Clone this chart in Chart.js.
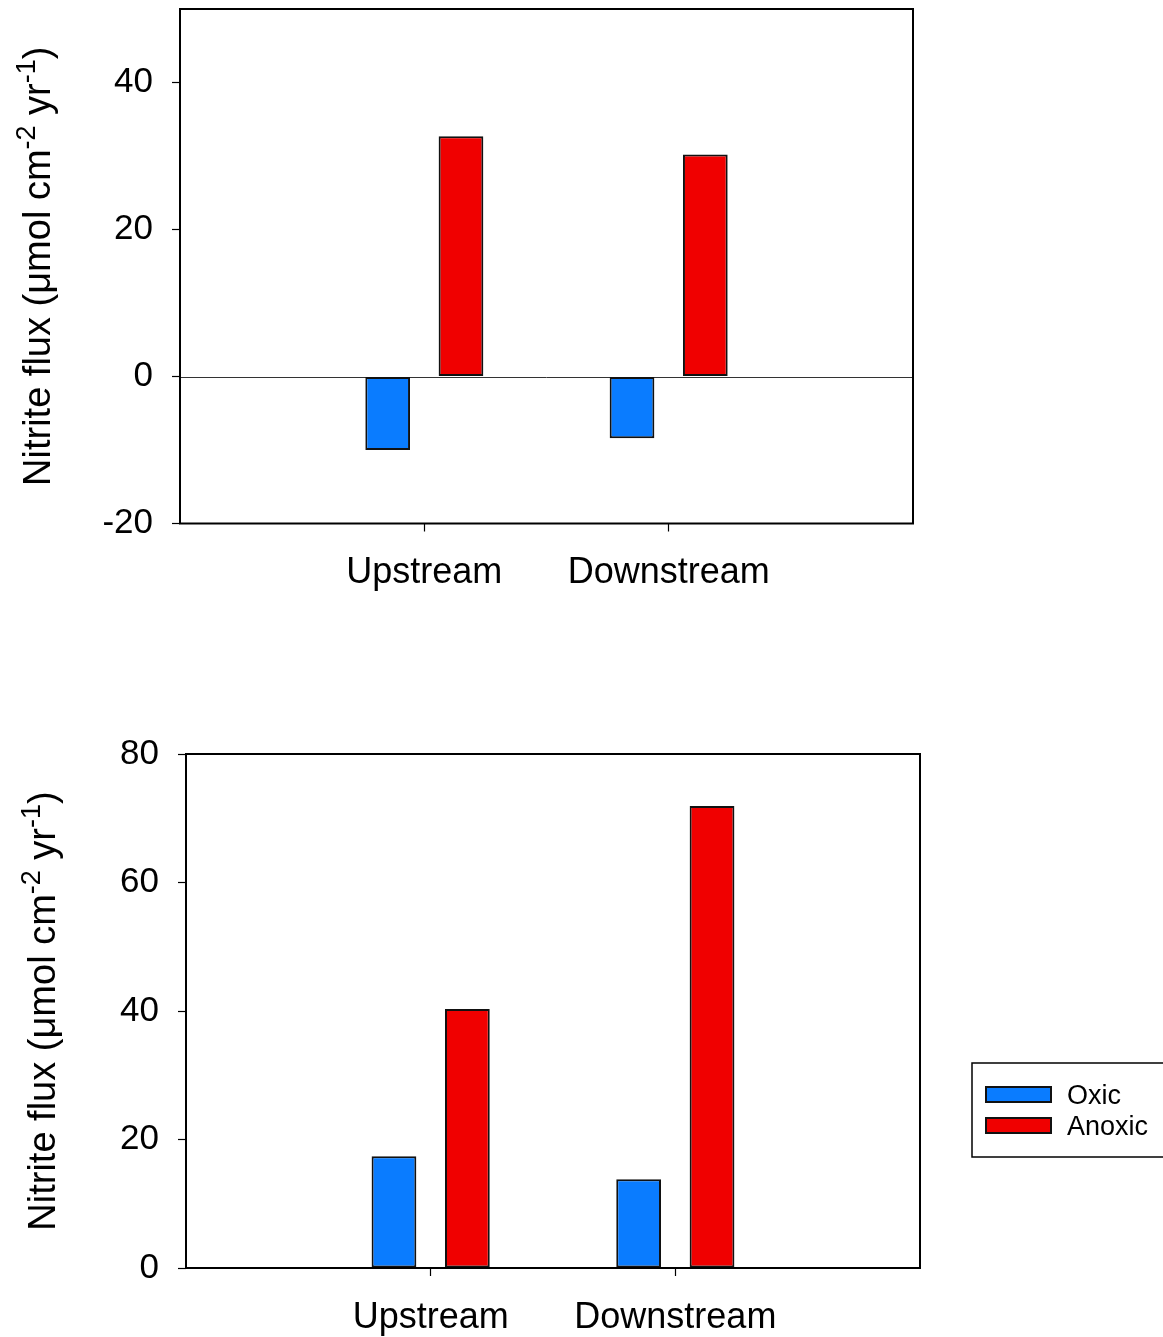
<!DOCTYPE html>
<html>
<head>
<meta charset="utf-8">
<script src="https://cdn.jsdelivr.net/npm/chart.js@4.4.1/dist/chart.umd.min.js"></script>
<style>
  html, body { margin: 0; padding: 0; background: #fff; }
  canvas { display: block; }
</style>
</head>
<body>
<canvas id="panelA" width="1163" height="620"></canvas>
<canvas id="panelB" width="1163" height="717"></canvas>
<script>
// Sampling sites and treatments
const sites = ['Upstream', 'Downstream'];
const seriesNames = ['Oxic', 'Anoxic'];
const seriesColors = ['#0a7cff', '#f00000'];

// Upper panel: nitrite flux
const oxicA = [-10.0, -8.4];
const anoxicA = [32.7, 30.2];
const yTicksA = [-20, 0, 20, 40];

// Lower panel: nitrite flux
const oxicB = [17.4, 13.8];
const anoxicB = [40.3, 71.9];
const yTicksB = [0, 20, 40, 60, 80];

const FONT = '"Liberation Sans", Arial, Helvetica, sans-serif';
Chart.defaults.font.family = FONT;
Chart.defaults.color = '#000';

// Sites sit at 1/3 and 2/3 of the axis: pad the category list with blank slots
const paddedLabels = ['', ...sites, ''];
const pad = arr => [null, ...arr, null];

const panelPlugin = {
  id: 'panel',
  beforeDatasetsDraw(chart, args, opts) {
    const ctx = chart.ctx, a = chart.chartArea, y = chart.scales.y;
    if (opts.zeroLine) {
      const y0 = Math.round(y.getPixelForValue(0)) + 0.5;
      ctx.save();
      ctx.strokeStyle = '#333';
      ctx.lineWidth = 1;
      ctx.beginPath();
      ctx.moveTo(a.left, y0);
      ctx.lineTo(a.right, y0);
      ctx.stroke();
      ctx.restore();
    }
  },
  afterDatasetsDraw(chart, args, opts) {
    const ctx = chart.ctx, a = chart.chartArea;
    // plot frame
    ctx.save();
    ctx.strokeStyle = '#000';
    ctx.lineWidth = 2;
    ctx.strokeRect(a.left, a.top, a.right - a.left, a.bottom - a.top);
    ctx.restore();

    // rotated axis title with superscripts
    const f = opts.titleSize, fs = Math.round(f * 0.7);
    const parts = [
      { t: 'Nitrite flux (\u03bcmol cm', sup: false },
      { t: '-2', sup: true },
      { t: ' yr', sup: false },
      { t: '-1', sup: true },
      { t: ')', sup: false }
    ];
    ctx.save();
    let total = 0;
    parts.forEach(p => {
      ctx.font = (p.sup ? fs : f) + 'px ' + FONT;
      p.w = ctx.measureText(p.t).width;
      total += p.w;
    });
    ctx.translate(opts.titleX, (a.top + a.bottom) / 2);
    ctx.rotate(-Math.PI / 2);
    ctx.fillStyle = '#000';
    ctx.textBaseline = 'alphabetic';
    ctx.textAlign = 'left';
    let x = -total / 2;
    parts.forEach(p => {
      ctx.font = (p.sup ? fs : f) + 'px ' + FONT;
      ctx.fillText(p.t, x, p.sup ? -f * 0.4 : 0);
      x += p.w;
    });
    ctx.restore();

    // legend box
    if (opts.legend) {
      const L = opts.legend;
      ctx.save();
      ctx.strokeStyle = '#000';
      ctx.lineWidth = 1.5;
      ctx.fillStyle = '#fff';
      ctx.fillRect(L.x, L.y, L.w, L.h);
      ctx.strokeRect(L.x, L.y, L.w, L.h);
      chart.data.datasets.forEach((ds, i) => {
        const sy = L.y + L.rowTop + i * L.rowStep;
        ctx.fillStyle = ds.backgroundColor;
        ctx.fillRect(L.x + 14, sy, 65, 15);
        ctx.strokeStyle = '#111';
        ctx.lineWidth = 2;
        ctx.strokeRect(L.x + 14, sy, 65, 15);
        ctx.fillStyle = '#000';
        ctx.font = L.fontSize + 'px ' + FONT;
        ctx.textBaseline = 'alphabetic';
        ctx.textAlign = 'left';
        ctx.fillText(ds.label, L.x + 95, sy + 17);
      });
      ctx.restore();
    }
  }
};

function makePanel(id, oxic, anoxic, yTicks, yMin, yMax, geom, extra) {
  const canvas = document.getElementById(id);
  return new Chart(canvas, {
    type: 'bar',
    data: {
      labels: paddedLabels,
      datasets: [
        { label: seriesNames[0], data: pad(oxic), backgroundColor: seriesColors[0] },
        { label: seriesNames[1], data: pad(anoxic), backgroundColor: seriesColors[1] }
      ]
    },
    options: {
      responsive: false,
      animation: false,
      devicePixelRatio: 1,
      layout: { padding: { top: geom.top, right: canvas.width - geom.right, left: 0, bottom: 0 } },
      datasets: {
        bar: {
          categoryPercentage: 0.6,
          barPercentage: 0.61,
          borderColor: '#111',
          borderWidth: 2,
          borderSkipped: false
        }
      },
      plugins: {
        legend: { display: false },
        tooltip: { enabled: false },
        panel: Object.assign({ titleX: geom.titleX, titleSize: 38, zeroLine: false }, extra)
      },
      scales: {
        x: {
          type: 'category',
          offset: false,
          grid: { display: true, offset: false, drawOnChartArea: false, tickLength: 8, tickColor: '#000', tickWidth: 1.2 },
          border: { display: false },
          ticks: { font: { size: 36 }, padding: 20, autoSkip: false, maxRotation: 0, color: '#000' },
          afterBuildTicks: s => { s.ticks = s.ticks.filter(t => paddedLabels[t.value] !== ''); },
          afterFit: s => { s.height = canvas.height - geom.bottom; s.paddingLeft = 0; s.paddingRight = 0; }
        },
        y: {
          min: yMin,
          max: yMax,
          grid: { display: true, drawOnChartArea: false, tickLength: 8, tickColor: '#000', tickWidth: 1.2 },
          border: { display: false },
          ticks: { font: { size: 35 }, padding: 19, color: '#000' },
          afterBuildTicks: s => { s.ticks = yTicks.map(v => ({ value: v })); },
          afterFit: s => { s.width = geom.left; s.paddingTop = 0; s.paddingBottom = 0; }
        }
      }
    },
    plugins: [panelPlugin]
  });
}

makePanel('panelA', oxicA, anoxicA, yTicksA, -20, 50,
  { left: 180, right: 913, top: 9, bottom: 523.5, titleX: 50 },
  { zeroLine: true });

makePanel('panelB', oxicB, anoxicB, yTicksB, 0, 80,
  { left: 186, right: 920, top: 134, bottom: 648, titleX: 55 },
  { legend: { x: 972, y: 443, w: 194, h: 94, rowTop: 24, rowStep: 31, fontSize: 27 } });
</script>
</body>
</html>
